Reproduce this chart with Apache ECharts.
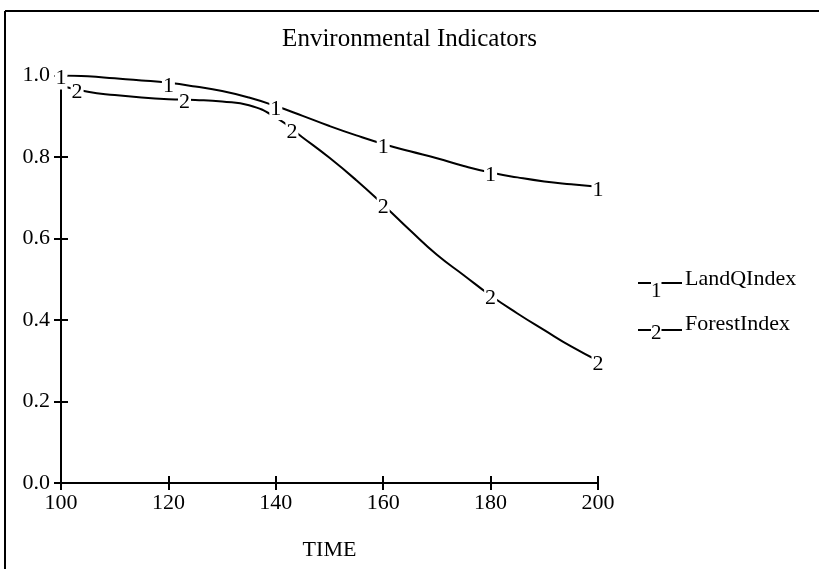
<!DOCTYPE html>
<html>
<head>
<meta charset="utf-8">
<script src="https://cdn.jsdelivr.net/npm/echarts@6/dist/echarts.min.js"></script>
<style>
html,body{margin:0;padding:0;background:#fff;}
#chart{width:819px;height:569px;}
</style>
</head>
<body>
<div id="chart"></div>
<script>
// ---- data ----
var times = [100,105,110,115,120,125,130,135,140,145,150,155,160,165,170,175,180,185,190,195,200];
var landQIndex = [1.0,0.998,0.993,0.988,0.982,0.973,0.962,0.946,0.925,0.901,0.876,0.853,0.832,0.814,0.797,0.778,0.762,0.750,0.740,0.733,0.727];
var forestIndex = [0.975,0.960,0.952,0.946,0.942,0.940,0.936,0.927,0.897,0.848,0.798,0.743,0.683,0.620,0.560,0.510,0.460,0.416,0.375,0.335,0.300];
var markerTimes1 = [100,120,140,160,180,200];
var markerTimes2 = [103,123,143,160,180,200];
var titleText = 'Environmental Indicators';
var seriesNames = ['LandQIndex','ForestIndex'];
var xName = 'TIME';

function interp(t, arr){
  for (var i=0;i<times.length-1;i++){
    if (t>=times[i] && t<=times[i+1]){
      var f=(t-times[i])/(times[i+1]-times[i]);
      return arr[i]+(arr[i+1]-arr[i])*f;
    }
  }
  return arr[arr.length-1];
}
function pairs(arr){ return times.map(function(t,i){return [t,arr[i]];}); }
function markers(ts, arr){ return ts.map(function(t){return [t, interp(t,arr)];}); }

var FONT = '"Liberation Serif","Times New Roman",serif';
var chart = echarts.init(document.getElementById('chart'));

var L = 61, R = 598, T = 75.5, B = 483;

function markerSeries(data, txt){
  return {
    type:'scatter', xAxisIndex:0, yAxisIndex:0, data:data, symbol:'circle', symbolSize:1,
    itemStyle:{color:'#fff', opacity:1}, z:5, silent:true, clip:false,
    label:{show:true, position:'inside', formatter:txt, color:'#000', fontFamily:FONT, fontSize:22,
      backgroundColor:'#fff', padding:[0,1], offset:[0,3]}
  };
}

chart.setOption({
  animation:false,
  backgroundColor:'#fff',
  title:{text:titleText, left:'center', top:22, textStyle:{fontFamily:FONT, fontWeight:'normal', fontSize:25, color:'#000'}},
  grid:{left:L, right:819-R, top:T, bottom:569-B, containLabel:false},
  xAxis:[{
    type:'value', min:100, max:200, interval:20,
    name:xName, nameLocation:'middle', nameGap:56,
    nameTextStyle:{fontFamily:FONT, fontSize:22, color:'#000'},
    axisLine:{show:true, onZero:false, lineStyle:{color:'#000', width:2}},
    axisTick:{show:true, length:7, lineStyle:{color:'#000', width:2}},
    axisLabel:{fontFamily:FONT, fontSize:22, color:'#000', margin:9},
    splitLine:{show:false}
  },{
    type:'value', min:100, max:200, interval:20, position:'bottom',
    axisLine:{show:false}, axisTick:{show:true, inside:true, length:7, lineStyle:{color:'#000', width:2}},
    axisLabel:{show:false}, splitLine:{show:false}
  }],
  yAxis:[{
    type:'value', min:0, max:1, interval:0.2,
    axisLine:{show:true, onZero:false, lineStyle:{color:'#000', width:2}},
    axisTick:{show:true, length:7, lineStyle:{color:'#000', width:2}},
    axisLabel:{fontFamily:FONT, fontSize:22, color:'#000', margin:11, formatter:function(v){return v.toFixed(1);}},
    splitLine:{show:false}
  },{
    type:'value', min:0, max:1, interval:0.2, position:'left',
    axisLine:{show:false}, axisTick:{show:true, inside:true, length:7, lineStyle:{color:'#000', width:2}},
    axisLabel:{show:false}, splitLine:{show:false}
  }],
  series:[
    {name:seriesNames[0], type:'line', data:pairs(landQIndex), smooth:true, showSymbol:false,
     lineStyle:{color:'#000', width:2}, z:3},
    {name:seriesNames[1], type:'line', data:pairs(forestIndex), smooth:true, showSymbol:false,
     lineStyle:{color:'#000', width:2}, z:3},
    markerSeries(markers(markerTimes1, landQIndex), '1'),
    markerSeries(markers(markerTimes2, forestIndex), '2')
  ],
  graphic:[
    {type:'line', shape:{x1:5, y1:11, x2:819, y2:11}, style:{stroke:'#000', lineWidth:2}},
    {type:'line', shape:{x1:5, y1:11, x2:5, y2:569}, style:{stroke:'#000', lineWidth:2}},
    // legend
    {type:'line', shape:{x1:638, y1:283, x2:682, y2:283}, style:{stroke:'#000', lineWidth:2}},
    {type:'text', left:651, top:281, z:10, style:{text:'1', font:'21px '+FONT, fill:'#000', backgroundColor:'#fff'}},
    {type:'text', left:685, top:268, style:{text:seriesNames[0], font:'22px '+FONT, fill:'#000'}},
    {type:'line', shape:{x1:638, y1:330, x2:682, y2:330}, style:{stroke:'#000', lineWidth:2}},
    {type:'text', left:651, top:323, z:10, style:{text:'2', font:'21px '+FONT, fill:'#000', backgroundColor:'#fff'}},
    {type:'text', left:685, top:313, style:{text:seriesNames[1], font:'22px '+FONT, fill:'#000'}}
  ]
});
</script>
</body>
</html>
